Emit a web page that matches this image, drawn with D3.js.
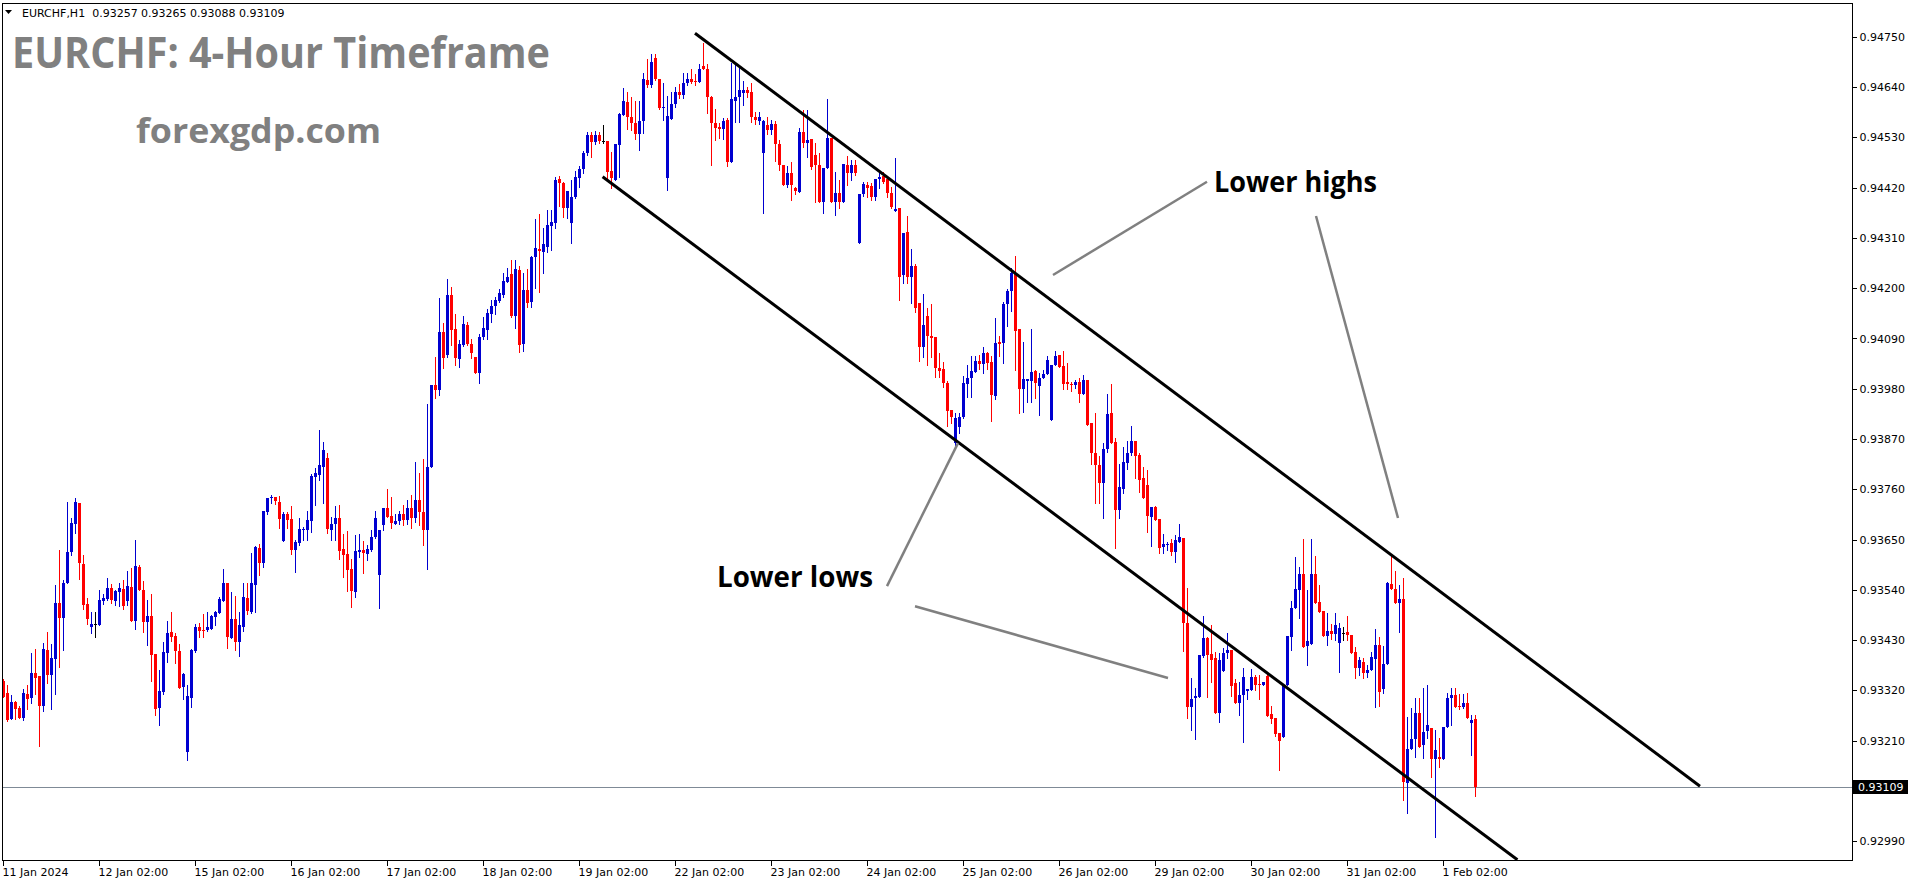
<!DOCTYPE html>
<html><head><meta charset="utf-8">
<script src="https://cdn.jsdelivr.net/npm/d3@7"></script>
<style>
html,body{margin:0;padding:0;background:#fff;}
svg{display:block;}
</style>
</head><body>
<svg id="chart" width="1916" height="884"></svg>
<script>
// ---------------- DATA ----------------
const symbol = "EURCHF,H1";
const headerValues = ["0.93257", "0.93265", "0.93088", "0.93109"];
const titleText = "EURCHF: 4-Hour Timeframe";
const siteText = "forexgdp.com";
const lastPrice = 0.93109;

// time axis: one label every 24 hourly bars
const timeLabels = ["11 Jan 2024","12 Jan 02:00","15 Jan 02:00","16 Jan 02:00","17 Jan 02:00","18 Jan 02:00","19 Jan 02:00","22 Jan 02:00","23 Jan 02:00","24 Jan 02:00","25 Jan 02:00","26 Jan 02:00","29 Jan 02:00","30 Jan 02:00","31 Jan 02:00","1 Feb 02:00"];
const timeLabelBars = [0,24,48,72,96,120,144,168,192,216,240,264,288,312,336,360];

const priceTicks = [0.94750,0.94640,0.94530,0.94420,0.94310,0.94200,0.94090,0.93980,0.93870,0.93760,0.93650,0.93540,0.93430,0.93320,0.93210,0.93100,0.92990];

// hourly OHLC in 1e-5 price units (points)
const openPts = [
93340,93313,93257,93295,93281,93260,93311,93303,93357,93351,93285,93408,
93353,93389,93511,93479,93554,93622,93684,93730,93596,93508,93459,93466,
93463,93516,93519,93544,93516,93535,93541,93515,93546,93472,93590,93539,
93470,93482,93399,93281,93316,93402,93447,93438,93406,93327,93184,93303,
93405,93458,93453,93452,93454,93481,93490,93516,93554,93435,93476,93426,
93459,93522,93491,93550,93631,93599,93710,93740,93743,93732,93646,93706,
93695,93627,93642,93671,93670,93690,93786,93791,93809,93828,93670,93683,
93697,93629,93618,93585,93535,93623,93627,93618,93627,93655,93572,93681,
93719,93701,93685,93690,93706,93693,93719,93697,93737,93710,93671,93809,
93988,93977,94104,94054,94185,94111,94045,94076,94120,94078,94050,94015,
94093,94109,94144,94161,94172,94185,94214,94231,94139,94240,94078,94196,
94170,94268,94286,94279,94290,94336,94343,94439,94430,94376,94343,94400,
94441,94461,94496,94535,94520,94535,94522,94522,94457,94437,94514,94579,
94608,94575,94562,94538,94566,94656,94645,94704,94658,94595,94441,94570,
94603,94630,94623,94649,94658,94654,94651,94686,94680,94619,94562,94553,
94549,94568,94476,94610,94619,94627,94634,94630,94575,94566,94496,94557,
94546,94560,94516,94470,94426,94452,94419,94411,94542,94518,94527,94491,
94470,94389,94463,94529,94389,94408,94389,94470,94452,94470,94299,94406,
94426,94424,94400,94439,94446,94439,94408,94369,94376,94229,94323,94225,
94249,94168,94071,94139,94096,94093,94025,94023,93993,93934,93861,93896,
93918,93990,94004,94016,94041,94034,94058,94039,93964,94082,94080,94165,
94194,94233,94111,93980,93997,93997,94018,93986,94004,94012,93912,94032,
94054,94030,93995,93990,93988,93995,93969,93999,93905,93839,93813,93774,
93848,93927,93863,93715,93761,93817,93839,93866,93835,93785,93769,93699,
93721,93695,93634,93638,93642,93623,93645,93653,93467,93283,93303,93305,
93395,93434,93399,93391,93270,93362,93402,93408,93336,93292,93310,93318,
93321,93349,93334,93332,93351,93268,93259,93227,93218,93332,93437,93500,
93540,93575,93417,93421,93575,93513,93494,93439,93450,93443,93423,93445,
93448,93441,93404,93369,93382,93358,93364,93388,93419,93323,93378,93553,
93542,93511,93520,93117,93192,93213,93270,93200,93231,93237,93170,93174,
93170,93240,93303,93310,93286,93283,93292,93248,93257];
const highPts = [
93344,93331,93309,93297,93285,93322,93331,93401,93410,93352,93423,93447,
93421,93550,93627,93561,93732,93698,93741,93730,93616,93522,93491,93491,
93539,93530,93565,93552,93539,93554,93561,93581,93588,93649,93594,93559,
93517,93530,93400,93364,93425,93471,93491,93445,93421,93357,93331,93410,
93465,93467,93487,93491,93484,93493,93525,93585,93554,93535,93526,93491,
93554,93554,93620,93635,93640,93712,93741,93748,93743,93745,93710,93710,
93723,93649,93697,93677,93712,93793,93807,93890,93863,93839,93699,93723,
93725,93662,93668,93607,93660,93662,93646,93638,93670,93712,93670,93719,
93760,93743,93706,93712,93726,93737,93747,93820,93796,93826,93947,93988,
94050,94179,94124,94220,94203,94144,94087,94139,94126,94089,94050,94100,
94137,94155,94174,94181,94198,94233,94244,94262,94262,94249,94233,94242,
94271,94352,94362,94332,94371,94371,94443,94446,94433,94413,94437,94457,
94467,94500,94542,94542,94544,94542,94557,94522,94498,94516,94584,94638,
94630,94619,94610,94610,94671,94702,94713,94713,94658,94649,94621,94630,
94641,94647,94671,94671,94680,94669,94691,94737,94691,94621,94592,94562,
94573,94573,94693,94693,94684,94654,94641,94649,94586,94586,94568,94575,
94568,94566,94525,94470,94467,94476,94422,94551,94590,94590,94527,94518,
94496,94463,94614,94529,94454,94437,94472,94489,94481,94481,94406,94433,
94433,94430,94439,94452,94454,94443,94422,94485,94376,94321,94358,94286,
94253,94168,94187,94157,94165,94093,94058,94039,93997,93934,93927,93927,
94008,94032,94052,94052,94054,94071,94060,94052,94135,94096,94170,94198,
94244,94271,94111,94082,94001,94111,94021,94015,94021,94052,94032,94063,
94054,94063,94036,93995,93999,94004,94010,93999,93905,93927,93833,93861,
93969,93990,93872,93815,93852,93866,93899,93866,93839,93809,93802,93721,
93723,93695,93662,93645,93651,93660,93684,93653,93544,93347,93325,93397,
93483,93437,93463,93404,93402,93413,93445,93408,93345,93338,93369,93323,
93367,93354,93354,93338,93358,93286,93259,93227,93332,93439,93515,93612,
93590,93651,93540,93651,93614,93550,93494,93489,93465,93489,93467,93459,
93483,93441,93415,93393,93391,93375,93404,93454,93437,93417,93557,93616,
93581,93550,93566,93262,93281,93303,93303,93325,93332,93237,93233,93216,
93240,93314,93325,93325,93312,93312,93314,93266,93265];
const lowPts = [
93306,93253,93257,93257,93260,93256,93279,93292,93312,93198,93275,93336,
93279,93312,93371,93408,93554,93617,93665,93563,93498,93465,93446,93437,
93463,93508,93517,93511,93506,93504,93498,93506,93472,93454,93539,93448,
93419,93341,93266,93244,93311,93381,93428,93380,93325,93301,93168,93284,
93403,93437,93437,93450,93454,93463,93490,93516,93413,93435,93408,93395,
93450,93487,93490,93491,93572,93590,93706,93730,93727,93675,93646,93675,
93618,93579,93638,93649,93649,93666,93726,93780,93730,93664,93649,93649,
93607,93568,93537,93502,93524,93611,93576,93605,93625,93653,93500,93670,
93699,93676,93683,93684,93682,93684,93675,93688,93682,93638,93586,93809,
93960,93966,94025,94050,94076,94032,94028,94074,94076,94047,94015,93993,
94089,94089,94126,94144,94170,94181,94214,94137,94113,94060,94063,94159,
94159,94201,94192,94233,94279,94284,94332,94380,94356,94354,94299,94397,
94422,94452,94491,94487,94516,94518,94518,94437,94419,94437,94443,94579,
94549,94546,94527,94503,94540,94641,94641,94656,94592,94568,94415,94570,
94597,94616,94616,94645,94649,94645,94651,94680,94584,94470,94525,94529,
94527,94467,94476,94564,94564,94601,94619,94564,94560,94560,94365,94538,
94538,94479,94459,94426,94422,94393,94406,94411,94509,94487,94461,94389,
94389,94365,94463,94389,94360,94376,94389,94426,94437,94448,94299,94402,
94400,94393,94393,94419,94430,94400,94376,94369,94174,94211,94211,94168,
94148,94041,94050,94032,94050,94006,94006,93984,93899,93905,93857,93883,
93916,93962,93962,94016,94023,94015,94023,93909,93958,94052,94036,94117,
94150,94021,93927,93929,93951,93951,93960,93923,94004,94012,93912,94032,
94028,93980,93980,93975,93982,93951,93969,93901,93815,93730,93730,93697,
93842,93861,93631,93697,93752,93804,93835,93785,93754,93741,93666,93636,
93693,93620,93620,93627,93616,93601,93645,93406,93259,93233,93213,93305,
93393,93305,93338,93270,93251,93362,93391,93308,93292,93266,93207,93301,
93321,93321,93301,93332,93264,93248,93220,93146,93218,93332,93408,93500,
93478,93415,93375,93421,93511,93491,93439,93419,93432,93430,93360,93430,
93430,93402,93347,93354,93347,93349,93364,93283,93286,93314,93378,93542,
93511,93448,93080,93051,93192,93174,93196,93172,93216,93130,92999,93152,
93170,93240,93244,93283,93279,93281,93259,93178,93088];
const closePts = [
93306,93254,93295,93279,93260,93314,93300,93357,93347,93286,93410,93353,
93390,93510,93479,93554,93622,93686,93732,93599,93506,93476,93465,93466,
93517,93522,93544,93517,93537,93544,93504,93548,93472,93592,93539,93470,
93482,93398,93279,93318,93403,93445,93436,93406,93325,93355,93307,93408,
93458,93449,93451,93458,93482,93491,93519,93554,93436,93476,93426,93462,
93524,93493,93554,93633,93599,93712,93741,93743,93735,93695,93706,93692,
93627,93644,93673,93673,93692,93788,93796,93813,93846,93673,93684,93697,
93625,93616,93583,93537,93625,93627,93620,93629,93655,93697,93670,93719,
93699,93687,93690,93706,93693,93719,93697,93737,93710,93671,93809,93988,
93977,94104,94047,94185,94109,94047,94078,94122,94078,94058,94015,94093,
94113,94146,94161,94174,94190,94216,94225,94139,94242,94076,94196,94168,
94268,94288,94282,94297,94338,94345,94437,94430,94376,94413,94400,94443,
94461,94496,94535,94520,94535,94522,94522,94454,94441,94516,94581,94610,
94575,94562,94538,94566,94658,94645,94695,94658,94595,94597,94577,94603,
94630,94623,94649,94658,94651,94651,94680,94680,94619,94562,94551,94549,
94566,94476,94614,94619,94634,94634,94627,94575,94568,94575,94566,94546,
94560,94516,94470,94426,94452,94426,94413,94542,94518,94525,94465,94470,
94389,94463,94529,94389,94408,94389,94472,94452,94470,94452,94406,94428,
94419,94400,94439,94443,94433,94408,94378,94374,94225,94321,94225,94249,
94157,94071,94120,94096,94091,94025,94018,93993,93931,93918,93916,93918,
93993,94004,94018,94041,94034,94058,94036,93966,94080,94078,94165,94194,
94233,94106,93980,94001,94001,94016,93993,94004,94012,94043,94032,94052,
94028,93990,93990,93988,93995,93969,93999,93901,93839,93813,93774,93848,
93925,93861,93715,93765,93820,93839,93866,93833,93780,93741,93701,93721,
93693,93631,93640,93640,93623,93649,93656,93467,93283,93301,93308,93397,
93434,93397,93386,93270,93386,93402,93408,93329,93292,93310,93349,93323,
93349,93332,93332,93338,93264,93257,93224,93209,93332,93439,93500,93542,
93575,93415,93428,93575,93511,93491,93439,93450,93443,93463,93456,93445,
93441,93402,93369,93386,93358,93364,93393,93419,93316,93378,93555,93542,
93511,93520,93119,93192,93213,93270,93196,93229,93244,93170,93189,93170,
93240,93303,93310,93283,93283,93292,93259,93255,93109];

// channel lines and annotation pointers: [bar index, price]
const upperChannel = [[173, 0.94758], [424.25, 0.93110]];
const lowerChannel = [[149.9, 0.94444], [378.6, 0.92949]];
const highsPointers = [[[262.5, 0.94229], [301, 0.94433]], [[328.25, 0.94358], [348.75, 0.93697]]];
const lowsPointers = [[[221, 0.93548], [238.75, 0.93861]], [[228, 0.93504], [291.25, 0.93347]]];
const highsLabel = {text: "Lower highs", bar: 302.75, price: 0.94411};
const lowsLabel = {text: "Lower lows", bar: 178.5, price: 0.93546};

// ---------------- DRAW ----------------
const P = 1e5;
const bars = openPts.map((o, i) => ({i, o: o / P, h: highPts[i] / P, l: lowPts[i] / P, c: closePts[i] / P}));

const svg = d3.select("#chart");
const L = 2, R = 1852, T = 3, B = 860;
const x = d3.scaleLinear().domain([0, 462]).range([3, 1851]);
const y = d3.scaleLinear().domain([0.929485, 0.948243]).range([B, T]);

svg.append("rect").attr("width", 1916).attr("height", 884).attr("fill", "#fff");
svg.append("defs").append("clipPath").attr("id", "plot")
  .append("rect").attr("x", L).attr("y", T).attr("width", R - L).attr("height", B - T);

const bull = "#0000d0", bear = "#ff0000", flat = "#000000";
const colorOf = d => d.c > d.o ? bull : (d.c < d.o ? bear : flat);

const plot = svg.append("g").attr("clip-path", "url(#plot)");

// current price line
plot.append("line").attr("x1", L).attr("x2", R)
  .attr("y1", Math.round(y(lastPrice)) + 0.5).attr("y2", Math.round(y(lastPrice)) + 0.5)
  .attr("stroke", "#7f8a96").attr("stroke-width", 1);

const cg = plot.append("g").attr("shape-rendering", "crispEdges");
cg.selectAll("line.wick").data(bars).join("line").attr("class", "wick")
  .attr("x1", d => x(d.i) + 0.5).attr("x2", d => x(d.i) + 0.5)
  .attr("y1", d => y(d.h)).attr("y2", d => y(d.l) + 1)
  .attr("stroke", colorOf).attr("stroke-width", 1);
cg.selectAll("rect.body").data(bars).join("rect").attr("class", "body")
  .attr("x", d => x(d.i) - 1).attr("width", 3)
  .attr("y", d => y(Math.max(d.o, d.c)))
  .attr("height", d => Math.max(1, Math.abs(y(d.o) - y(d.c))))
  .attr("fill", colorOf);

// channel lines
const lineGen = d3.line().x(d => x(d[0])).y(d => y(d[1]));
[upperChannel, lowerChannel].forEach(seg => {
  plot.append("path").attr("d", lineGen(seg)).attr("stroke", "#000").attr("stroke-width", 3).attr("fill", "none");
});
// annotation pointers
[...highsPointers, ...lowsPointers].forEach(seg => {
  plot.append("path").attr("d", lineGen(seg)).attr("stroke", "#808080").attr("stroke-width", 2.5).attr("fill", "none");
});
[highsLabel, lowsLabel].forEach((lab, k) => {
  plot.append("text").attr("x", x(lab.bar)).attr("y", y(lab.price))
    .attr("font-family", "'Open Sans', sans-serif").attr("font-weight", 700).attr("font-size", 29)
    .attr("textLength", k === 0 ? 163 : 156).attr("lengthAdjust", "spacingAndGlyphs")
    .attr("fill", "#000").text(lab.text);
});

// title and site text
svg.append("text").attr("x", 12).attr("y", 68)
  .attr("font-family", "'Open Sans', sans-serif").attr("font-weight", 700).attr("font-size", 43)
  .attr("textLength", 538).attr("lengthAdjust", "spacingAndGlyphs")
  .attr("fill", "#808080").text(titleText);
svg.append("text").attr("x", 136).attr("y", 143)
  .attr("font-family", "'Open Sans', sans-serif").attr("font-weight", 700).attr("font-size", 34)
  .attr("textLength", 245).attr("lengthAdjust", "spacingAndGlyphs")
  .attr("fill", "#808080").text(siteText);

// header
svg.append("path").attr("d", "M5,10 L12,10 L8.5,14 Z").attr("fill", "#000");
svg.append("text").attr("x", 22).attr("y", 17).attr("font-family", "'DejaVu Sans', sans-serif")
  .attr("font-size", 11).attr("fill", "#000").style("white-space", "pre")
  .text(symbol + "  " + headerValues.join(" "));

// frame
svg.append("rect").attr("x", L + 0.5).attr("y", T + 0.5).attr("width", R - L).attr("height", B - T)
  .attr("fill", "none").attr("stroke", "#000").attr("stroke-width", 1).attr("shape-rendering", "crispEdges");

// price axis (the tick label under the last-price tag is hidden by the tag, as in MT4)
const ly = y(lastPrice);
const yAxis = d3.axisRight(y).tickValues(priceTicks)
  .tickFormat(d => Math.abs(y(d) - ly) < 14 ? "" : d3.format(".5f")(d))
  .tickSize(4).tickPadding(3);
const ya = svg.append("g").attr("transform", `translate(${R + 0.5},0)`).call(yAxis);
ya.select(".domain").remove();
ya.selectAll("text").attr("font-family", "'DejaVu Sans', sans-serif").attr("font-size", 11).attr("fill", "#000");
ya.selectAll("line").attr("stroke", "#000").attr("shape-rendering", "crispEdges");

// time axis
const xAxis = d3.axisBottom(x).tickValues(timeLabelBars).tickFormat((d, i) => timeLabels[i]).tickSize(5).tickPadding(3);
const xa = svg.append("g").attr("transform", `translate(0,${B + 0.5})`).call(xAxis);
xa.select(".domain").remove();
xa.selectAll("text").attr("text-anchor", "start").attr("dx", -1)
  .attr("font-family", "'DejaVu Sans', sans-serif").attr("font-size", 11).attr("fill", "#000");
xa.selectAll("line").attr("stroke", "#000").attr("shape-rendering", "crispEdges");

// last price tag
svg.append("rect").attr("x", R + 1).attr("y", Math.round(ly) - 7).attr("width", 55).attr("height", 14).attr("fill", "#000");
svg.append("text").attr("x", R + 6).attr("y", ly).attr("dy", "0.35em")
  .attr("font-family", "'DejaVu Sans', sans-serif").attr("font-size", 11).attr("fill", "#fff")
  .text(d3.format(".5f")(lastPrice));
</script>
</body></html>
